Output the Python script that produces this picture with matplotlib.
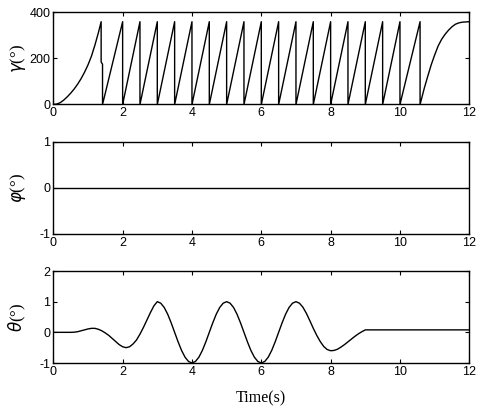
import numpy as np
import matplotlib
matplotlib.use("Agg")
import matplotlib.pyplot as plt

plt.rcParams["axes.unicode_minus"] = False

# ---- data ----
# gamma: accelerating start
gamma_start_t = [0.0, 0.1, 0.2, 0.3, 0.4, 0.5, 0.6, 0.7, 0.8, 0.9, 1.0, 1.1, 1.2, 1.3, 1.38]
gamma_start_v = [0, 2, 8, 19, 33, 49, 67, 88, 112, 140, 172, 210, 258, 312, 360]
# first wrap (with small step)
gamma_wrap_t = [1.38, 1.38, 1.42, 1.42]
gamma_wrap_v = [360, 185, 175, 0]
# sawtooth: times of each 360 deg wrap (each tooth rises linearly 0 -> 360)
tooth_peaks = [2.0, 2.5, 3.0, 3.5, 4.0, 4.5, 5.0, 5.5, 6.0, 6.5, 7.0, 7.5,
               8.0, 8.5, 9.0, 9.5, 10.0, 10.58]
# decelerating end
gamma_end_t = [10.58, 10.7, 10.8, 10.9, 11.0, 11.1, 11.2, 11.3, 11.4, 11.5, 11.6, 11.7, 11.8, 12.0]
gamma_end_v = [0, 70, 122, 172, 215, 254, 283, 305, 323, 338, 349, 355, 358, 360]

phi_t = [0.0, 12.0]
phi_v = [0.0, 0.0]

theta_t = [0.0, 0.5, 0.6, 0.7, 0.8, 0.9, 1.0, 1.1, 1.2, 1.3, 1.4, 1.5, 1.6, 1.7, 1.8, 1.9,
           2.0, 2.1, 2.2, 2.3, 2.4, 2.5, 2.6, 2.7, 2.8, 2.9,
           3.0, 3.1, 3.2, 3.3, 3.4, 3.5, 3.6, 3.7, 3.8, 3.9,
           4.0, 4.1, 4.2, 4.3, 4.4, 4.5, 4.6, 4.7, 4.8, 4.9,
           5.0, 5.1, 5.2, 5.3, 5.4, 5.5, 5.6, 5.7, 5.8, 5.9,
           6.0, 6.1, 6.2, 6.3, 6.4, 6.5, 6.6, 6.7, 6.8, 6.9,
           7.0, 7.1, 7.2, 7.3, 7.4, 7.5, 7.6, 7.7, 7.8, 7.9,
           8.0, 8.1, 8.2, 8.3, 8.4, 8.5, 8.6, 8.7, 8.8, 8.9, 9.0, 12.0]
theta_v = [0.0, 0.0, 0.005, 0.02, 0.05, 0.08, 0.11, 0.13, 0.13, 0.10, 0.05, -0.02, -0.10, -0.20, -0.30, -0.40,
           -0.47, -0.50, -0.47, -0.38, -0.25, -0.06, 0.16, 0.40, 0.64, 0.86,
           1.0, 0.95, 0.81, 0.59, 0.31, 0.0, -0.31, -0.59, -0.81, -0.95,
           -1.0, -0.95, -0.81, -0.59, -0.31, 0.0, 0.31, 0.59, 0.81, 0.95,
           1.0, 0.95, 0.81, 0.59, 0.31, 0.0, -0.31, -0.59, -0.81, -0.95,
           -1.0, -0.95, -0.81, -0.59, -0.31, 0.0, 0.31, 0.59, 0.81, 0.95,
           1.0, 0.95, 0.82, 0.62, 0.38, 0.13, -0.10, -0.30, -0.46, -0.56,
           -0.60, -0.59, -0.55, -0.48, -0.40, -0.31, -0.22, -0.13, -0.05, 0.02, 0.08, 0.08]

# build gamma series from its pieces
g_t = list(gamma_start_t) + list(gamma_wrap_t)
g_v = list(gamma_start_v) + list(gamma_wrap_v)
for p in tooth_peaks:
    g_t += [p, p]
    g_v += [360, 0]
g_t += gamma_end_t[1:]
g_v += gamma_end_v[1:]

xticks = [0, 2, 4, 6, 8, 10, 12]
panels = [
    (g_t, g_v, (0, 400), [0, 200, 400], r"$\gamma$(°)"),
    (phi_t, phi_v, (-1, 1), [-1, 0, 1], r"$\varphi$(°)"),
    (theta_t, theta_v, (-1, 2), [-1, 0, 1, 2], r"$\theta$(°)"),
]

fig = plt.figure(figsize=(4.84, 4.15), dpi=100)
W, H = 484, 415
boxes = [(12.5, 104.5), (142, 234), (271, 363)]
left, right = 53.3, 469.3

for (t, v, ylim, yt, lab), (top, bot) in zip(panels, boxes):
    ax = fig.add_axes([left / W, 1 - bot / H, (right - left) / W, (bot - top) / H])
    ax.plot(t, v, color="black", lw=1.0)
    ax.set_xlim(0, 12)
    ax.set_ylim(*ylim)
    ax.set_xticks(xticks)
    ax.set_yticks(yt)
    ax.tick_params(direction="in", top=True, right=True, length=3, width=0.8,
                   labelsize=9, pad=2)
    for lbl in ax.get_xticklabels() + ax.get_yticklabels():
        lbl.set_fontfamily("Liberation Sans")
    for s in ax.spines.values():
        s.set_linewidth(1.0)
    ax.set_ylabel(lab, fontsize=12, fontfamily="Liberation Serif", labelpad=2)
    ax.yaxis.set_label_coords(-0.06, 0.5)

fig.text((left + right) / 2 / W, 1 - 398 / H, "Time(s)", ha="center", va="center",
         fontsize=11.5, fontfamily="Liberation Serif")

fig.savefig("out.png", dpi=100)
